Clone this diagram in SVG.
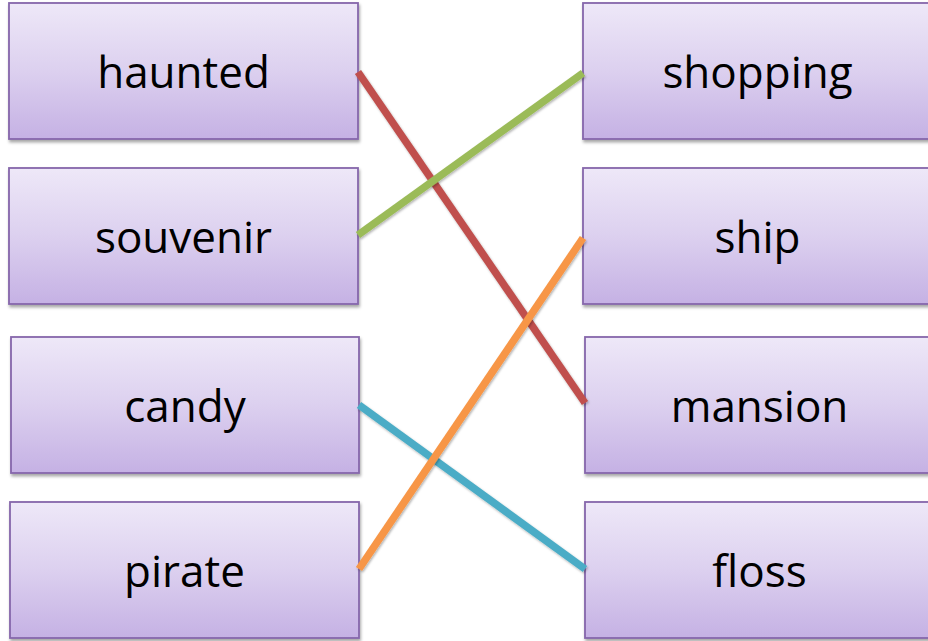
<svg xmlns="http://www.w3.org/2000/svg" width="928" height="641" viewBox="0 0 928 641">
  <defs>
    <linearGradient id="boxGrad" x1="0" y1="0" x2="0" y2="1">
      <stop offset="0" stop-color="#EEE8F8"/>
      <stop offset="0.5" stop-color="#DCD0EF"/>
      <stop offset="1" stop-color="#C5B1E4"/>
    </linearGradient>
    <filter id="shadow" x="-5%" y="-5%" width="110%" height="115%">
      <feDropShadow dx="1" dy="2.5" stdDeviation="1.5" flood-color="#000" flood-opacity="0.35"/>
    </filter>
    <filter id="lineShadow" x="-5%" y="-5%" width="110%" height="110%">
      <feDropShadow dx="1" dy="1.5" stdDeviation="1" flood-color="#000" flood-opacity="0.3"/>
    </filter>
  </defs>
  <style>
    .box { fill: url(#boxGrad); stroke: #8566AB; stroke-width: 1.8; filter: url(#shadow); }
    .label { font-family: "Open Sans", "DejaVu Sans", sans-serif; font-size: 44px; fill: #000; text-anchor: middle; }
    .conn { stroke-width: 7.5; fill: none; filter: url(#lineShadow); }
  </style>
  <rect width="928" height="641" fill="#FFFFFF"/>

  <g id="node-haunted">
    <rect class="box" x="9" y="3" width="349" height="136"/>
    <text class="label" x="183.5" y="88">haunted</text>
  </g>
  <g id="node-souvenir">
    <rect class="box" x="9" y="168" width="349" height="136"/>
    <text class="label" x="183.5" y="253">souvenir</text>
  </g>
  <g id="node-candy">
    <rect class="box" x="11" y="337" width="348" height="136"/>
    <text class="label" x="185" y="422">candy</text>
  </g>
  <g id="node-pirate">
    <rect class="box" x="10" y="502" width="349" height="136"/>
    <text class="label" x="184.5" y="587">pirate</text>
  </g>

  <g id="node-shopping">
    <rect class="box" x="583" y="3" width="350" height="136"/>
    <text class="label" x="757.5" y="88">shopping</text>
  </g>
  <g id="node-ship">
    <rect class="box" x="583" y="168" width="350" height="136"/>
    <text class="label" x="757.5" y="253">ship</text>
  </g>
  <g id="node-mansion">
    <rect class="box" x="585" y="337" width="350" height="136"/>
    <text class="label" x="759.5" y="422">mansion</text>
  </g>
  <g id="node-floss">
    <rect class="box" x="585" y="502" width="350" height="136"/>
    <text class="label" x="759.5" y="587">floss</text>
  </g>

  <g id="connectors">
    <line class="conn" x1="358" y1="72" x2="585" y2="403" stroke="#C0504D"/>
    <line class="conn" x1="358" y1="235" x2="583" y2="73" stroke="#9BBB59"/>
    <line class="conn" x1="359" y1="405" x2="585" y2="569" stroke="#4BACC6"/>
    <line class="conn" x1="359" y1="569" x2="583" y2="238" stroke="#F79646"/>
  </g>
</svg>
